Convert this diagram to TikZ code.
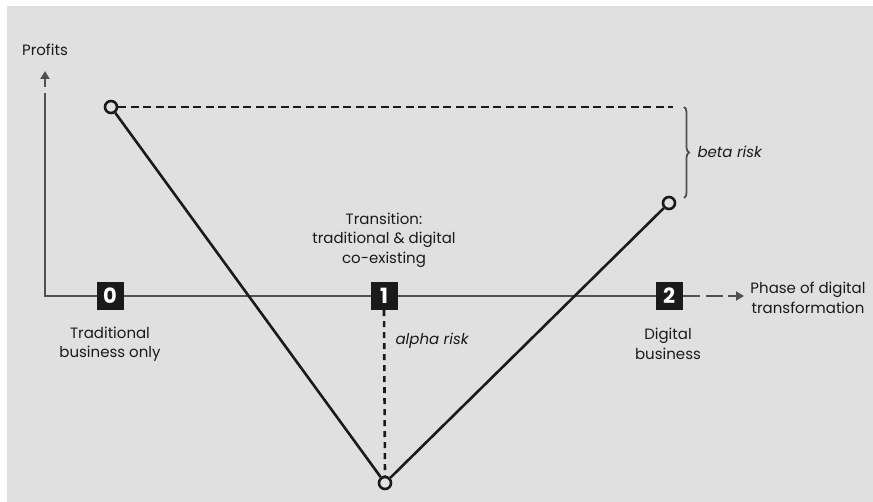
\documentclass[tikz,border=0pt]{standalone}
\usepackage{fontspec}
\setmainfont{Poppins}
\usetikzlibrary{arrows.meta,decorations.pathreplacing}
\definecolor{bggray}{HTML}{E0E0E0}
\definecolor{axisgray}{HTML}{505050}
\definecolor{ink}{HTML}{1A1A1A}
\begin{document}
\begin{tikzpicture}[x=1pt,y=1pt,
  axisline/.style={draw=axisgray,line width=2.6pt},
  profitline/.style={draw=ink,line width=2.6pt},
  phasebox/.style={fill=ink,text=white,minimum width=27pt,minimum height=28pt,inner sep=0pt,font=\bfseries\fontsize{21}{21}\selectfont},
  pointcirc/.style={circle,draw=ink,line width=2.6pt,fill=bggray,minimum size=12pt,inner sep=0pt},
  lbl/.style={text=ink,align=center,font=\fontsize{15}{19.5}\selectfont},
  risklbl/.style={text=ink,anchor=west,font=\itshape\fontsize{15}{19.5}\selectfont},
  topdash/.style={draw=ink,line width=2.6pt,dash pattern=on 8pt off 4.5pt},
  vdash/.style={draw=ink,line width=2.6pt,dash pattern=on 6pt off 5pt}
]
\useasboundingbox (0,0) rectangle (873,-502);
\fill[bggray] (7,-6) rectangle (873,-502);

% axes
\coordinate (origin) at (45,-296);
\coordinate (ytop) at (45,-93);
\coordinate (yarrowbase) at (45,-87);
\coordinate (yarrowtip) at (45,-71);
\coordinate (xsolidend) at (700,-296);
\coordinate (xdashstart) at (706,-296);
\coordinate (xdashend) at (723,-296);
\coordinate (xarrowbase) at (728,-296);
\coordinate (xarrowtip) at (744,-296);

\draw[axisline] (ytop) -- (origin) -- (xsolidend);
\draw[axisline,line width=2.2pt] (xdashstart) -- (xdashend);
\draw[axisline,line width=2.2pt,-{Triangle[length=8pt,width=9pt]}] (xarrowbase) -- (xarrowtip);
\draw[axisline,line width=2.2pt,-{Triangle[length=8pt,width=9pt]}] (yarrowbase) -- (yarrowtip);

\node[lbl] (profits) at (45,-50) {Profits};

% phase boxes
\node[phasebox] (box0) at (110,-296) {0};
\node[phasebox] (box1) at (384,-296) {1};
\node[phasebox] (box2) at (669,-296) {2};

% points
\node[pointcirc] (c0) at (111,-107) {};
\node[pointcirc] (c1) at (385,-483) {};
\node[pointcirc] (c2) at (669,-203) {};

\coordinate (dashend) at (673,-107);
\draw[topdash] (c0) -- (dashend);
\draw[vdash] (box1.south) -- (c1.north);
\draw[profitline] (c0) -- (c1);
\draw[profitline] (c1) -- (c2);

% brace
\coordinate (bracetop) at (684,-107);
\coordinate (bracebot) at (684,-198);
\draw[draw=axisgray,line width=1.8pt,decorate,decoration={brace,amplitude=5pt}] (bracetop) -- (bracebot);

% labels
\node[risklbl] (beta) at (694,-152) {beta risk};
\node[risklbl] (alpha) at (392,-341) {alpha risk};
\node[lbl] (trans) at (384,-240) {Transition:\\traditional \& digital\\co-existing};
\node[lbl] (trad) at (110,-344) {Traditional\\business only};
\node[lbl] (digi) at (668,-344) {Digital\\business};
\node[lbl] (phase) at (808,-298) {Phase of digital\\transformation};
\end{tikzpicture}
\end{document}
